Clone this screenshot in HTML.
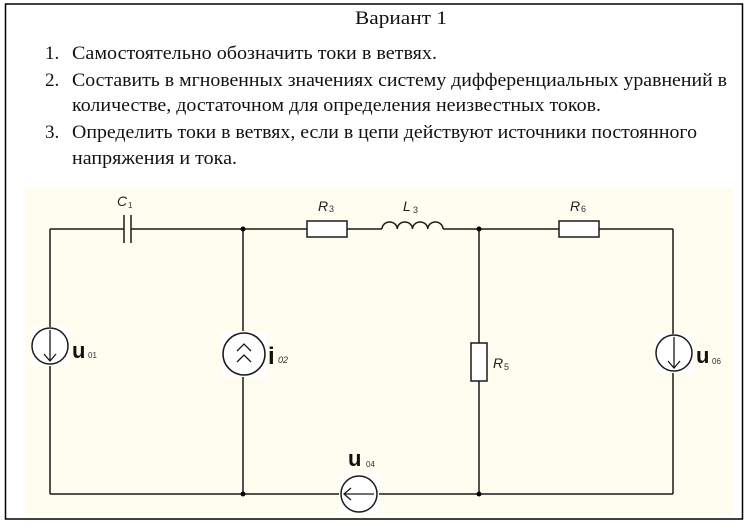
<!DOCTYPE html>
<html><head><meta charset="utf-8"><style>
html,body{margin:0;padding:0;background:#fff;width:750px;height:532px;overflow:hidden}
svg{display:block}
.t{font-family:"Liberation Serif","Noto Serif CJK SC",serif;font-size:19px;fill:#111}
.l{font-family:"Liberation Sans",Arial,sans-serif;font-style:italic;fill:#222}
.u{font-family:"Liberation Sans",Arial,sans-serif;font-weight:bold;fill:#111}
.s{font-family:"Liberation Sans",Arial,sans-serif;fill:#333}
</style></head><body>
<svg width="750" height="532" viewBox="0 0 750 532" xmlns="http://www.w3.org/2000/svg">
<rect x="5.5" y="4" width="737" height="515" fill="#fff" stroke="#000" stroke-width="1.5"/>
<text class="t" x="355" y="24" textLength="92" lengthAdjust="spacingAndGlyphs">Вариант 1</text>
<text class="t" x="45" y="59">1.</text>
<text class="t" x="72" y="59" textLength="365" lengthAdjust="spacingAndGlyphs">Самостоятельно обозначить токи в ветвях.</text>
<text class="t" x="45" y="86">2.</text>
<text class="t" x="72" y="86" textLength="655" lengthAdjust="spacingAndGlyphs">Составить в мгновенных значениях систему дифференциальных уравнений в</text>
<text class="t" x="72" y="111" textLength="529" lengthAdjust="spacingAndGlyphs">количестве, достаточном для определения неизвестных токов.</text>
<text class="t" x="45" y="138">3.</text>
<text class="t" x="72" y="138" textLength="625" lengthAdjust="spacingAndGlyphs">Определить токи в ветвях, если в цепи действуют источники постоянного</text>
<text class="t" x="72" y="164" textLength="165" lengthAdjust="spacingAndGlyphs">напряжения и тока.</text>

<rect x="25" y="187" width="708" height="328" fill="#fffcf0"/>

<g stroke="#1a1a1a" stroke-width="1.5" fill="none">
  <path d="M50 229 H124 M131 229 H307 M347 229 H382 M443 229 H559 M599 229 H673"/>
  <path d="M124 215 V243 M131 215 V243"/>
  <rect x="307" y="221" width="40" height="16" fill="#fff"/>
  <path d="M382 229 A7.6 7 0 0 1 397.25 229 A7.6 7 0 0 1 412.5 229 A7.6 7 0 0 1 427.75 229 A7.6 7 0 0 1 443 229"/>
  <rect x="559" y="221" width="40" height="16" fill="#fff"/>
  <path d="M50 229 V494 M243 229 V494 M479 229 V343 M479 381 V494 M673 229 V494"/>
  <path d="M50 494 H673"/>
  <rect x="471" y="343" width="16" height="38" fill="#fff"/>
</g>

<rect x="31" y="327" width="39" height="39" fill="#fff"/>
<circle cx="50" cy="346" r="18" fill="#fff" stroke="#1a1a1a" stroke-width="1.5"/>
<path d="M50 330 V361 M44 354 L50 361 L56 354" stroke="#1a1a1a" stroke-width="1.3" fill="none"/>

<rect x="221" y="331" width="46" height="46" fill="#fff"/>
<circle cx="244" cy="354" r="21" fill="#fff" stroke="#1a1a1a" stroke-width="1.6"/>
<path d="M237 351 L244 344 L251 351 M237 362 L244 355 L251 362" stroke="#1a1a1a" stroke-width="1.3" fill="none"/>

<rect x="655" y="334" width="39" height="39" fill="#fff"/>
<circle cx="674" cy="353" r="18" fill="#fff" stroke="#1a1a1a" stroke-width="1.5"/>
<path d="M674 337 V368 M668 361 L674 368 L680 361" stroke="#1a1a1a" stroke-width="1.3" fill="none"/>

<rect x="339" y="474" width="40" height="40" fill="#fff"/>
<circle cx="359" cy="494" r="18" fill="#fff" stroke="#1a1a1a" stroke-width="1.5"/>
<path d="M344 494 H374 M351 488 L344 494 L351 500" stroke="#1a1a1a" stroke-width="1.3" fill="none"/>

<g stroke="#000" fill="#000">
  <circle cx="243" cy="229" r="2"/>
  <circle cx="479" cy="229" r="2"/>
  <circle cx="243" cy="494" r="2"/>
  <circle cx="479" cy="494" r="2"/>
</g>

<text class="l" x="117" y="206" font-size="14">C</text>
<text class="s" x="128" y="208" font-size="8">1</text>
<text class="l" x="318" y="211" font-size="14">R</text>
<text class="s" x="329" y="212" font-size="9">3</text>
<text class="l" x="403" y="211" font-size="14">L</text>
<text class="s" x="413" y="213" font-size="9">3</text>
<text class="l" x="570" y="211" font-size="14">R</text>
<text class="s" x="581" y="212" font-size="9">6</text>
<text class="l" x="493" y="368" font-size="14">R</text>
<text class="s" x="504" y="370" font-size="9">5</text>

<text class="u" x="72" y="358" font-size="22">u</text>
<text class="s" x="88" y="358" font-size="8">01</text>
<text class="u" x="268" y="364" font-size="24">i</text>
<text class="s" x="278" y="363" font-size="9" font-style="italic">02</text>
<text class="u" x="696" y="363" font-size="22">u</text>
<text class="s" x="712" y="364" font-size="8">06</text>
<text class="u" x="348" y="466" font-size="22">u</text>
<text class="s" x="366" y="467" font-size="8">04</text>
</svg>
</body></html>
